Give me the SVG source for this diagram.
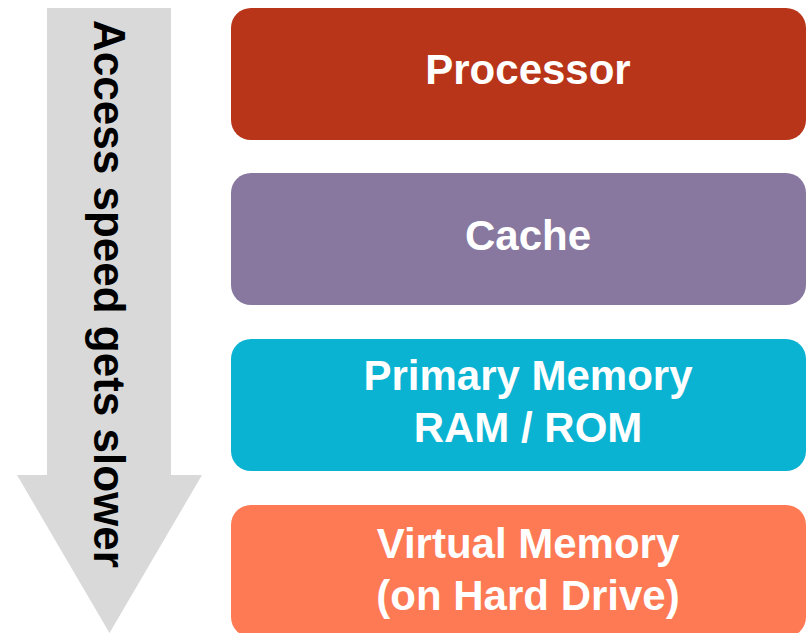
<svg xmlns="http://www.w3.org/2000/svg" width="808" height="633" viewBox="0 0 808 633">
  <style>
    .box { stroke: none; }
    .label { font-family: "Liberation Sans", Arial, sans-serif; font-weight: bold; font-size: 42px; fill: #ffffff; text-anchor: middle; }
    .side { font-family: "Liberation Sans", Arial, sans-serif; font-weight: bold; font-size: 44px; fill: #000000; text-anchor: middle; }
  </style>
  <rect width="808" height="633" fill="#ffffff"/>

  <!-- big downward arrow with rotated caption -->
  <g id="speed-arrow">
    <path d="M47,8 H171 V475 H202 L109.5,633 L17,475 H47 Z" fill="#d9d9d9"/>
    <text class="side" transform="translate(94,294) rotate(90)">Access speed gets slower</text>
  </g>

  <g id="processor">
    <rect class="box" x="231" y="8" width="575" height="132" rx="20" fill="#b83519"/>
    <text class="label" x="528" y="84">Processor</text>
  </g>

  <g id="cache">
    <rect class="box" x="231" y="173" width="575" height="132" rx="20" fill="#8878a0"/>
    <text class="label" x="528" y="250">Cache</text>
  </g>

  <g id="primary-memory">
    <rect class="box" x="231" y="339" width="575" height="132" rx="20" fill="#0bb3d2"/>
    <text class="label" x="528" y="390">Primary Memory</text>
    <text class="label" x="528" y="442">RAM / ROM</text>
  </g>

  <g id="virtual-memory">
    <rect class="box" x="231" y="505" width="575" height="132" rx="20" fill="#fd7a55"/>
    <text class="label" x="528" y="558">Virtual Memory</text>
    <text class="label" x="528" y="610">(on Hard Drive)</text>
  </g>

  <g id="connectors"/>
</svg>
